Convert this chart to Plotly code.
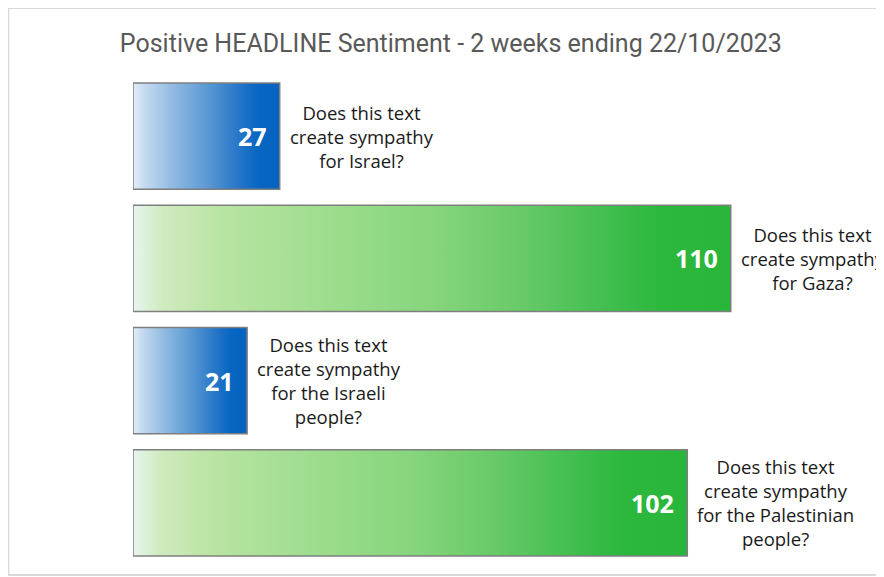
import plotly.graph_objects as go

# ---- data ----
questions = [
    "Does this text<br>create sympathy<br>for Israel?",
    "Does this text<br>create sympathy<br>for Gaza?",
    "Does this text<br>create sympathy<br>for the Israeli<br>people?",
    "Does this text<br>create sympathy<br>for the Palestinian<br>people?",
]
counts = [27, 110, 21, 102]
title_text = "Positive HEADLINE Sentiment - 2 weeks ending 22/10/2023"

# ---- styles ----
blue_scale = [[0, "#e2edf8"], [0.08, "#c4daef"], [0.3, "#8ab6e0"], [0.5, "#5c9ad4"],
              [0.7, "#2b79c9"], [0.85, "#0866c2"], [1, "#0563c1"]]
green_scale = [[0, "#e8f5f0"], [0.05, "#d0eabe"], [0.15, "#b8e4a2"], [0.35, "#9adc8b"],
               [0.5, "#87d57d"], [0.65, "#68ca67"], [0.8, "#3fbe4e"], [0.88, "#2cb83d"],
               [1, "#28b63a"]]
scales = [blue_scale, green_scale, blue_scale, green_scale]
half = 0.435
label_font = "Open Sans, Noto Sans, sans-serif"

fig = go.Figure()
for i, (v, sc) in enumerate(zip(counts, scales)):
    fig.add_trace(go.Scatter(
        x=[0, v, v, 0, 0],
        y=[i - half, i - half, i + half, i + half, i - half],
        mode="lines",
        fill="toself",
        fillgradient=dict(type="horizontal", colorscale=sc),
        line=dict(color="#7f7f7f", width=1.5),
        hoverinfo="skip",
        showlegend=False,
    ))
    # value label inside bar end
    fig.add_annotation(
        x=v, y=i, xref="x", yref="y", text=f"<b>{v}</b>",
        showarrow=False, xanchor="right", xshift=-11,
        font=dict(family=label_font, size=25, color="white"),
    )
    # question label right of bar
    fig.add_annotation(
        x=v, y=i, xref="x", yref="y", text=questions[i],
        showarrow=False, xanchor="left", xshift=8, align="center",
        font=dict(family=label_font, size=18.5, color="#1a1a1a"),
    )

# outer light border
fig.add_shape(type="rect", xref="paper", yref="paper",
              x0=-0.166, x1=1.03, y0=-0.0225, y1=1.137,
              line=dict(color="#d9d9d9", width=2), layer="below")

fig.update_layout(
    width=884, height=577,
    margin=dict(l=125, r=8, t=67, b=21),
    paper_bgcolor="white", plot_bgcolor="white",
    title=dict(text=title_text, x=0.501, xref="container", xanchor="center",
               y=0.939, yref="container", yanchor="middle",
               font=dict(family="Roboto, sans-serif", size=25, color="#595959")),
    xaxis=dict(range=[0, 138.2], visible=False, fixedrange=True),
    yaxis=dict(range=[3.5, -0.5], visible=False, fixedrange=True),
    showlegend=False,
)

fig.write_html("out.html")
